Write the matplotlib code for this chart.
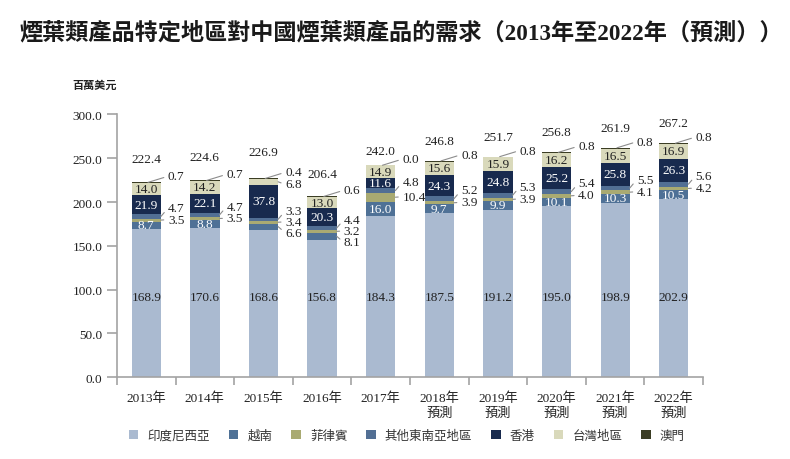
import numpy as np
import matplotlib
matplotlib.use('Agg')
import matplotlib.pyplot as plt
from matplotlib.patches import Patch

plt.rcParams['font.family'] = ['Liberation Serif', 'Noto Sans CJK TC', 'DejaVu Sans']

# ---- data (百萬美元) ----
years = ['2013年', '2014年', '2015年', '2016年', '2017年',
         '2018年\n預測', '2019年\n預測', '2020年\n預測', '2021年\n預測', '2022年\n預測']
indonesia = [168.9, 170.6, 168.6, 156.8, 184.3, 187.5, 191.2, 195.0, 198.9, 202.9]
vietnam = [8.7, 8.8, 6.6, 8.1, 16.0, 9.7, 9.9, 10.1, 10.3, 10.5]
philippines = [3.5, 3.5, 3.4, 3.2, 10.4, 3.9, 3.9, 4.0, 4.1, 4.2]
other_sea = [4.7, 4.7, 3.3, 4.4, 4.8, 5.2, 5.3, 5.4, 5.5, 5.6]
hong_kong = [21.9, 22.1, 37.8, 20.3, 11.6, 24.3, 24.8, 25.2, 25.8, 26.3]
taiwan = [14.0, 14.2, 6.8, 13.0, 14.9, 15.6, 15.9, 16.2, 16.5, 16.9]
macau = [0.7, 0.7, 0.4, 0.6, 0.0, 0.8, 0.8, 0.8, 0.8, 0.8]
totals = [222.4, 224.6, 226.9, 206.4, 242.0, 246.8, 251.7, 256.8, 261.9, 267.2]

names = ['印度尼西亞', '越南', '菲律賓', '其他東南亞地區', '香港', '台灣地區', '澳門']
series = [indonesia, vietnam, philippines, other_sea, hong_kong, taiwan, macau]
colors = ['#aabad0', '#4f7196', '#a9aa72', '#526f94', '#182a4e', '#d9d9bb', '#3b3d24']

# styling: which small segments get a leader-line label, and vertical nudges
vietnam_outside = [2, 3]
taiwan_outside = [2]
total_offset = [27, 27, 30, 26, 16, 22.5, 22, 23, 23, 22.5]
nudge = {1: -7, 2: 0.5, 3: 9.5, 5: -3, 6: 7}

TXT = '#222222'
GREY = '#a3a3a3'

fig = plt.figure(figsize=(7.9, 4.6), dpi=100)
ax = fig.add_axes([0.148, 0.178, 0.742, 0.571])

x = np.arange(len(years))
width = 0.5
bottom = np.zeros(len(years))
bottoms = []
for vals, col in zip(series, colors):
    ax.bar(x, vals, width, bottom=bottom, color=col, linewidth=0, zorder=2)
    bottoms.append(bottom.copy())
    bottom = bottom + np.array(vals)


def leader(label, xy, ytext, xtext):
    ax.annotate(label, xy=xy, xytext=(xtext, ytext), ha='left', va='center',
                fontsize=9.5, color=TXT,
                arrowprops=dict(arrowstyle='-', color='#8c8c8c', lw=0.8,
                                relpos=(0, 0.5), shrinkA=1, shrinkB=0))


for i in x:
    # inside labels
    ax.text(i, 92, f'{indonesia[i]:.1f}', ha='center', va='center', fontsize=9.5, color=TXT)
    for s, light in ((1, True), (4, True), (5, False)):
        if (s == 1 and i in vietnam_outside) or (s == 5 and i in taiwan_outside):
            continue
        c = bottoms[s][i] + series[s][i] / 2
        ax.text(i, c, f'{series[s][i]:.1f}', ha='center', va='center', fontsize=9.5,
                color='white' if light else TXT)
    # outside labels with leader lines
    xt = i + width / 2 + 0.12
    outside = [2, 3, 6]
    if i in vietnam_outside:
        outside.append(1)
    if i in taiwan_outside:
        outside.append(5)
    for s in outside:
        v = series[s][i]
        if s == 6:
            top = bottoms[s][i] + v
            leader(f'{v:.1f}', (i + 0.03, top), top + nudge[s], xt)
        else:
            c = bottoms[s][i] + v / 2
            leader(f'{v:.1f}', (i + width / 2, c), c + nudge[s], xt)
    # totals
    ax.text(i, totals[i] + total_offset[i], f'{totals[i]:.1f}', ha='center', va='center',
            fontsize=9.5, color=TXT)

ax.set_xlim(-0.5, len(years) - 0.5)
ax.set_ylim(0, 300)
ax.set_xticks(np.arange(-0.5, len(years), 1))
ax.set_xticklabels([])
ax.set_xticks(x, minor=True)
ax.set_xticklabels(years, minor=True, fontsize=9.5, color=TXT, linespacing=1.25)
ax.tick_params(axis='x', which='major', length=6, width=1.2, color=GREY, direction='out')
ax.tick_params(axis='x', which='minor', length=0, pad=10.5)
ax.set_yticks(np.arange(0, 301, 50))
ax.set_yticklabels([f'{v:.1f}' for v in np.arange(0, 301, 50)], fontsize=9.5, color=TXT)
ax.tick_params(axis='y', length=7, width=1.2, color=GREY, pad=3.5)
for side in ('top', 'right'):
    ax.spines[side].set_visible(False)
for side in ('left', 'bottom'):
    ax.spines[side].set_color(GREY)
    ax.spines[side].set_linewidth(1.2)

fig.text(0.025, 0.928, '煙葉類產品特定地區對中國煙葉類產品的需求（2013年至2022年（預測））',
         ha='left', va='center', fontsize=16.7, fontweight='bold', color='#1a1a1a')
fig.text(0.091, 0.813, '百萬美元', ha='left', va='center', fontsize=8, fontweight='bold',
         color=TXT)

handles = [Patch(facecolor=c, edgecolor='none') for c in colors]
fig.legend(handles, names, loc='center', bbox_to_anchor=(0.515, 0.05), ncol=7,
           frameon=False, handlelength=0.75, handleheight=0.75, handletextpad=0.75,
           columnspacing=1.5, fontsize=9, labelcolor='#333333')

fig.savefig('out.png', dpi=100)
